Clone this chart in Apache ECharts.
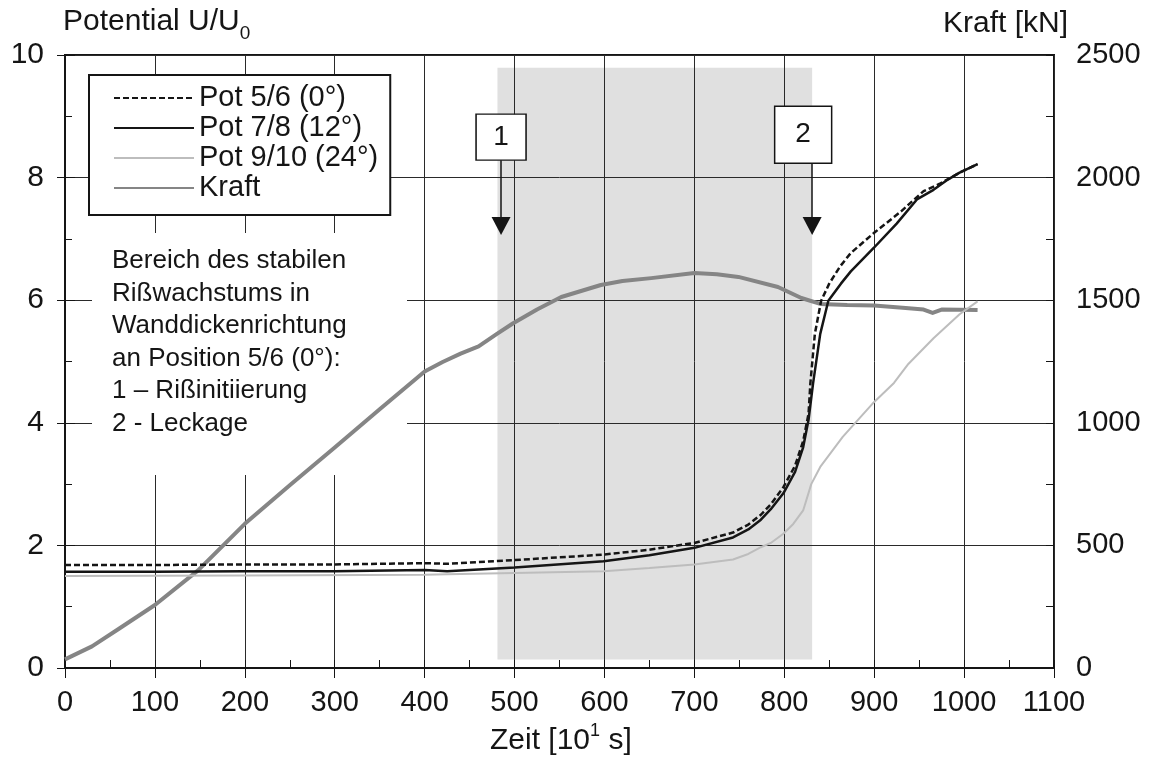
<!DOCTYPE html>
<html><head><meta charset="utf-8">
<script src="https://cdn.jsdelivr.net/npm/echarts@6/dist/echarts.min.js"></script>
<style>html,body{margin:0;padding:0;background:#fff}#chart{width:1156px;height:767px}</style>
</head><body><div id="chart"></div>
<script>
// ---- data ----
const seriesNames = ['Pot 5/6 (0°)', 'Pot 7/8 (12°)', 'Pot 9/10 (24°)', 'Kraft'];
const xTicks = [0, 100, 200, 300, 400, 500, 600, 700, 800, 900, 1000, 1100];
const leftTicks = [0, 2, 4, 6, 8, 10];
const rightTicks = [0, 500, 1000, 1500, 2000, 2500];

const pot56Time = [0, 100, 200, 300, 400, 425, 500, 599, 650, 700, 743, 760, 774, 785, 799, 812, 821, 827, 829, 834, 841, 850, 862, 874, 900, 930, 955, 973, 995, 1015];
const pot56Value = [1.68, 1.68, 1.69, 1.69, 1.71, 1.70, 1.76, 1.85, 1.93, 2.04, 2.21, 2.34, 2.50, 2.67, 2.95, 3.30, 3.70, 4.15, 4.64, 5.45, 5.99, 6.27, 6.55, 6.77, 7.10, 7.45, 7.78, 7.90, 8.08, 8.22];

const pot78Time = [0, 100, 200, 300, 400, 425, 500, 599, 650, 700, 743, 760, 774, 785, 799, 812, 821, 827, 832, 840, 849, 863, 874, 900, 925, 948, 966, 980, 995, 1015];
const pot78Value = [1.57, 1.57, 1.58, 1.58, 1.60, 1.58, 1.64, 1.74, 1.84, 1.96, 2.13, 2.26, 2.42, 2.59, 2.85, 3.20, 3.60, 4.05, 4.64, 5.45, 5.99, 6.27, 6.47, 6.86, 7.25, 7.65, 7.80, 7.95, 8.08, 8.22];

const pot910Time = [0, 200, 400, 425, 500, 599, 650, 700, 743, 760, 774, 785, 799, 810, 821, 830, 840, 865, 898, 922, 938, 966, 995, 1015];
const pot910Value = [1.50, 1.51, 1.52, 1.53, 1.55, 1.58, 1.63, 1.69, 1.77, 1.86, 1.97, 2.04, 2.19, 2.35, 2.57, 3.00, 3.28, 3.77, 4.31, 4.65, 4.96, 5.38, 5.77, 5.98];

const kraftTime = [0, 30, 60, 100, 148, 200, 250, 300, 350, 400, 420, 440, 460, 480, 498, 525, 552, 596, 620, 652, 700, 725, 749, 793, 819, 840, 870, 900, 935, 955, 965, 975, 1015];
const kraftKN = [35, 88, 160, 257, 398, 588, 745, 899, 1055, 1209, 1248, 1282, 1312, 1362, 1405, 1462, 1513, 1562, 1578, 1590, 1611, 1606, 1595, 1554, 1509, 1485, 1480, 1478, 1468, 1462, 1448, 1462, 1460];

// stable crack growth region (time range, potential range)
const regionTime = [481, 831];
const regionLevel = [0.14, 9.79];

// annotations: 1 = Rißinitiierung, 2 = Leckage
const markerLabels = ['1', '2'];
const markerBoxTime = [485, 821];
const markerBoxLevel = [8.66, 8.70];
const arrowTime = [485, 831];
const arrowFrom = [8.3, 8.24];
const arrowTo = [7.21, 7.21];

const noteLines = ['Bereich des stabilen', 'Rißwachstums in', 'Wanddickenrichtung', 'an Position 5/6 (0°):', '1 – Rißinitiierung', '2 - Leckage'];

// ---- chart ----
const FONT = "'Liberation Sans', Arial, Helvetica, sans-serif";
const INK = '#151515';
const boxSizes = [[50, 46], [57, 57]];
const zip = (t, v) => t.map((x, i) => [x, v[i]]);
const plain = v => String(v);
const chart = echarts.init(document.getElementById('chart'));

chart.setOption({
  animation: false,
  backgroundColor: '#fff',
  grid: { left: 65, top: 55, right: 102, bottom: 99, show: true, borderColor: INK, borderWidth: 2, backgroundColor: 'transparent' },
  legend: {
    orient: 'vertical', left: 89, top: 75,
    data: seriesNames,
    itemWidth: 80, itemHeight: 14, itemGap: 0,
    padding: [8, 12, 12, 24],
    borderColor: INK, borderWidth: 2, backgroundColor: '#fff',
    itemStyle: { opacity: 0 },
    textStyle: { fontSize: 29, fontFamily: FONT, color: INK, lineHeight: 30 },
    selectedMode: false
  },
  xAxis: [
    { type: 'value', min: xTicks[0], max: xTicks[xTicks.length - 1], interval: 100,
      axisLine: { show: true, lineStyle: { color: INK, width: 2 } },
      axisTick: { show: true, inside: false, length: 10, lineStyle: { color: INK, width: 1 } },
      axisLabel: { fontSize: 29, fontFamily: FONT, color: INK, margin: 20, formatter: plain },
      splitLine: { show: true, lineStyle: { color: '#2a2a2a', width: 1 } } },
    { type: 'value', min: 0, max: 1100, interval: 50, position: 'bottom',
      axisLine: { show: false }, axisTick: { show: true, inside: true, length: 8, lineStyle: { color: INK } },
      axisLabel: { show: false }, splitLine: { show: false } }
  ],
  yAxis: [
    { type: 'value', min: leftTicks[0], max: leftTicks[leftTicks.length - 1], interval: 2, position: 'left',
      axisLine: { show: true, lineStyle: { color: INK, width: 2 } },
      axisTick: { show: true, inside: false, length: 8, lineStyle: { color: INK } },
      axisLabel: { fontSize: 30, fontFamily: FONT, color: INK, margin: 21, formatter: plain },
      splitLine: { show: true, lineStyle: { color: '#2a2a2a', width: 1 } } },
    { type: 'value', min: rightTicks[0], max: rightTicks[rightTicks.length - 1], interval: 500, position: 'right',
      axisLine: { show: true, lineStyle: { color: INK, width: 2 } },
      axisTick: { show: true, inside: false, length: 10, lineStyle: { color: INK } },
      axisLabel: { fontSize: 29, fontFamily: FONT, color: INK, margin: 22, formatter: plain },
      splitLine: { show: false } },
    { type: 'value', min: 0, max: 10, interval: 1, position: 'left',
      axisLine: { show: false }, axisTick: { show: true, inside: true, length: 7, lineStyle: { color: INK } },
      axisLabel: { show: false }, splitLine: { show: false } },
    { type: 'value', min: 0, max: 2500, interval: 250, position: 'right',
      axisLine: { show: false }, axisTick: { show: true, inside: true, length: 8, lineStyle: { color: INK } },
      axisLabel: { show: false }, splitLine: { show: false } }
  ],
  series: [
    { name: 'Bereich', type: 'line', data: [], silent: true, z: -1,
      markArea: { silent: true, z: -1, itemStyle: { color: '#e0e0e0' },
        data: [[{ coord: [regionTime[0], regionLevel[0]] }, { coord: [regionTime[1], regionLevel[1]] }]] } },
    { name: 'Kraft', type: 'line', yAxisIndex: 1, data: zip(kraftTime, kraftKN), symbol: 'none', showSymbol: false,
      lineStyle: { color: '#858585', width: 4, join: 'round' }, itemStyle: { color: '#858585' } },
    { name: 'Pot 9/10 (24°)', type: 'line', data: zip(pot910Time, pot910Value), symbol: 'none', showSymbol: false,
      lineStyle: { color: '#bdbdbd', width: 2 }, itemStyle: { color: '#bdbdbd' } },
    { name: 'Pot 7/8 (12°)', type: 'line', data: zip(pot78Time, pot78Value), symbol: 'none', showSymbol: false,
      lineStyle: { color: INK, width: 2.5 }, itemStyle: { color: INK } },
    { name: 'Pot 5/6 (0°)', type: 'line', data: zip(pot56Time, pot56Value), symbol: 'none', showSymbol: false,
      lineStyle: { color: INK, width: 2.5, type: [6, 3] }, itemStyle: { color: INK } },
    { name: 'Marker', type: 'line', data: [], silent: true,
      markLine: { silent: true, symbol: ['none', 'triangle'], symbolSize: [19, 18], label: { show: false },
        lineStyle: { color: INK, width: 1.5, type: 'solid' },
        data: arrowTime.map((t, i) => [{ coord: [t, arrowFrom[i]] }, { coord: [t, arrowTo[i]] }]) },
      markPoint: { silent: true, symbol: 'rect',
        itemStyle: { color: '#fff', borderColor: INK, borderWidth: 1.5 },
        label: { show: true, position: 'inside', formatter: p => p.name, fontSize: 28, fontFamily: FONT, color: INK },
        data: markerLabels.map((n, i) => ({ name: n, coord: [markerBoxTime[i], markerBoxLevel[i]], symbolSize: boxSizes[i] })) } }
  ],
  graphic: [
    { type: 'text', left: 63, top: 7, z: 10,
      style: { text: 'Potential U/U{sub|0}', fontSize: 30, fontFamily: FONT, fill: INK,
        rich: { sub: { fontSize: 19, fontFamily: FONT, fill: INK, verticalAlign: 'bottom', lineHeight: 42 } } } },
    { type: 'text', right: 1156 - 1068, top: 9, z: 10,
      style: { text: 'Kraft [kN]', fontSize: 30, fontFamily: FONT, fill: INK } },
    { type: 'text', left: 490, top: 722, z: 10,
      style: { text: 'Zeit [10{sup|1} s]', fontSize: 30, fontFamily: FONT, fill: INK,
        rich: { sup: { fontSize: 18, fontFamily: FONT, fill: INK, verticalAlign: 'top', lineHeight: 38 } } } },
    { type: 'rect', z: 1, shape: { x: 92, y: 233, width: 315, height: 242 }, style: { fill: '#fff' } },
    { type: 'text', left: 112, top: 245, z: 3,
      style: { text: noteLines.join('\n'), fontSize: 26, fontFamily: FONT, fill: INK, lineHeight: 32.5 } }
  ]
});
</script>
</body></html>
